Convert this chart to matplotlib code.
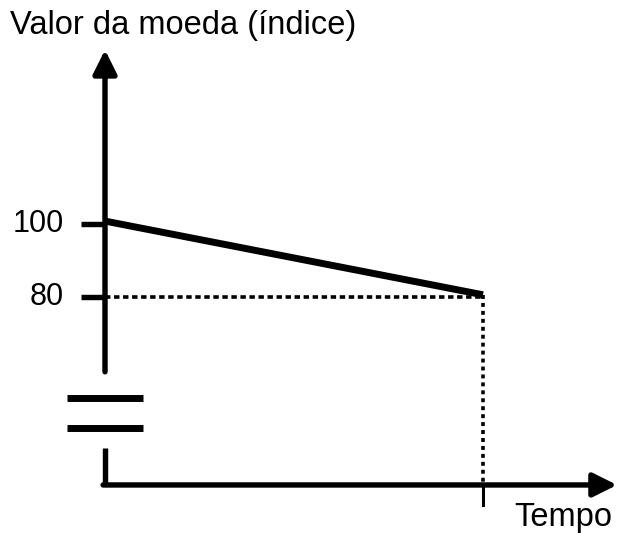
import matplotlib
matplotlib.use('Agg')
import matplotlib.pyplot as plt

# Data: currency value index over time
time_points = [0.0, 1.0]
value_points = [100.8, 80.6]
tick_values = [100, 80]
tick_labels = ['100', '80']
y_title = 'Valor da moeda (índice)'
x_title = 'Tempo'

plt.rcParams['font.family'] = ['Liberation Sans', 'DejaVu Sans']

fig = plt.figure(figsize=(6.28, 5.33), dpi=100)
ax = fig.add_axes([0, 0, 1, 1])
ax.set_xlim(-0.2778, 1.3836)
ax.set_ylim(15.34, 161.37)
ax.axis('off')

# layout of the hand-drawn axes (in data units)
x0 = 0.0             # y axis position
y0 = 28.5            # x axis position
y_tip = 147.7        # arrow tip of y axis
x_tip = 1.3545       # arrow tip of x axis
brk_lo, brk_hi = 38.6, 59.5
brk_marks = [44.1, 52.3]
axis_lw = 3.9

# y axis with break
ax.plot([x0, x0], [y0 + 0.5, brk_lo], color='black', lw=axis_lw, solid_capstyle='butt')
ax.annotate('', xy=(x0, y_tip), xytext=(x0, brk_hi),
            arrowprops=dict(arrowstyle='-|>,head_length=0.6,head_width=0.3',
                            mutation_scale=24, lw=axis_lw, color='black',
                            shrinkA=0, shrinkB=0))
for yb in brk_marks:
    ax.plot([-0.1005, 0.1005], [yb, yb], color='black', lw=5.0, solid_capstyle='butt')

# x axis
ax.annotate('', xy=(x_tip, y0), xytext=(x0 - 0.005, y0),
            arrowprops=dict(arrowstyle='-|>,head_length=0.6,head_width=0.3',
                            mutation_scale=24, lw=axis_lw, color='black',
                            shrinkA=0, shrinkB=0))

# y ticks and labels
for v, lab in zip(tick_values, tick_labels):
    ax.plot([-0.063, x0], [v, v], color='black', lw=axis_lw, solid_capstyle='butt')
    ax.text(-0.11, v, lab, ha='right', va='center', fontsize=22)

# value line
ax.plot(time_points, value_points, color='black', lw=5.0, solid_capstyle='butt')

# dotted guides to the end point
t_end = time_points[-1]
ax.plot([x0, t_end], [tick_values[1], tick_values[1]], color='black', lw=2.6,
        linestyle=(0, (1.5, 1.0)))
ax.plot([t_end, t_end], [value_points[-1], y0], color='black', lw=2.6,
        linestyle=(0, (1.1, 1.1)))
ax.plot([t_end, t_end], [y0, 23.0], color='black', lw=2.2)

# axis titles
ax.text(-0.2513, 158.6, y_title, ha='left', va='top', fontsize=23.5)
ax.text(1.342, 15.4, x_title, ha='right', va='bottom', fontsize=23.5)

plt.savefig('out.png', dpi=100)
plt.close()
